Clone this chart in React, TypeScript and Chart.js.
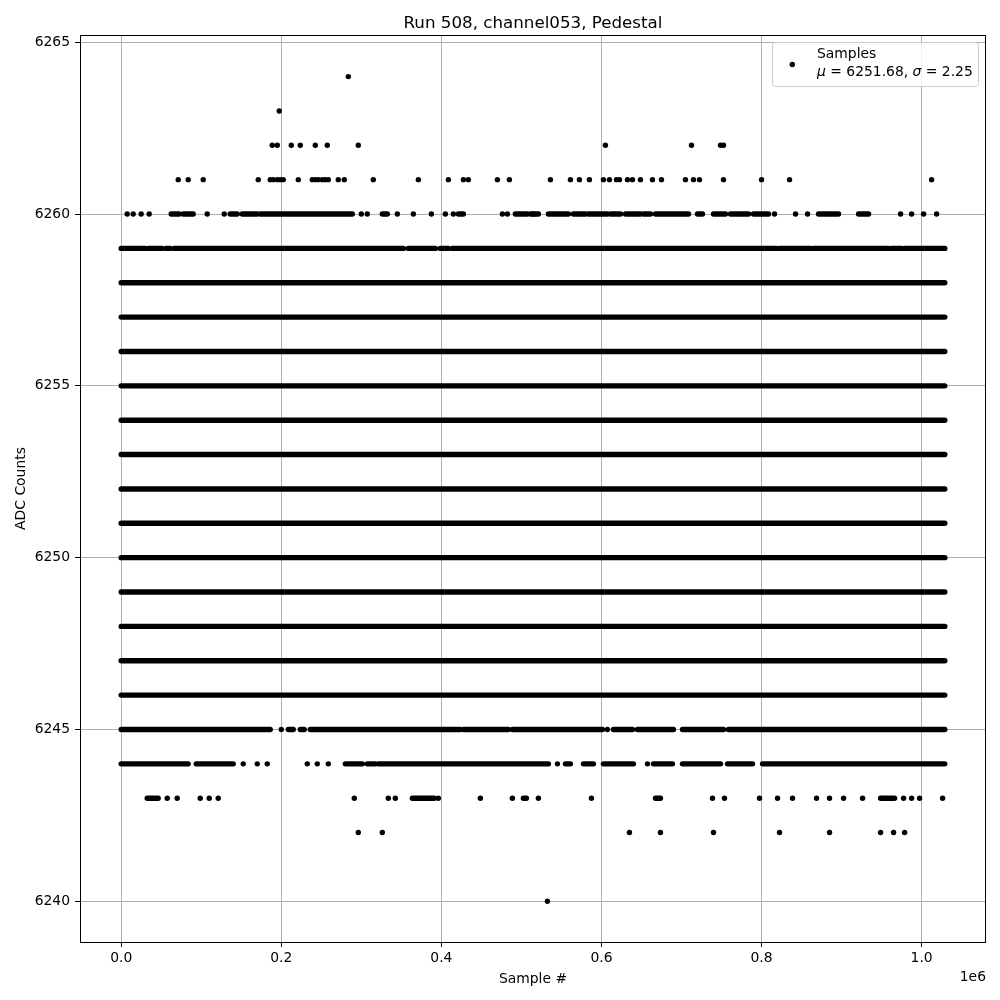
import React, { useEffect, useRef } from "react";
import { Chart, registerables } from "chart.js";

Chart.register(...registerables);

// ---- text ----
const TITLE = "Run 508, channel053, Pedestal";
const X_LABEL = "Sample #";
const Y_LABEL = "ADC Counts";
const X_OFFSET_LABEL = "1e6";
const LEGEND_NAME = "Samples";
const MEAN_TEXT = "6251.68";
const SIGMA_TEXT = "2.25";

// ---- axes ----
const xTickValues = [0, 200000, 400000, 600000, 800000, 1000000];
const yTickValues = [6240, 6245, 6250, 6255, 6260, 6265];
const xMin = -51450;
const xMax = 1080450;
const yMin = 6238.815;
const yMax = 6265.21;

// ---- data: rows where samples form a continuous band ----
const fullRowLevels = [6246, 6247, 6248, 6249, 6250, 6251, 6252, 6253, 6254, 6255, 6256, 6257, 6258];
const fullRowSpan: [number, number] = [0, 1029000];

// runs of densely packed samples [start, end] per ADC level
const row6260Runs: [number, number][] = [
  [62500, 72500], [77500, 90000], [136250, 145000], [151250, 170000], [173750, 288750],
  [326250, 332500], [421250, 427500], [492500, 507500], [511250, 521250], [533750, 558750],
  [565000, 580000], [583750, 607500], [611250, 623750], [630000, 648750], [652500, 661250],
  [667500, 708750], [720000, 726250], [740000, 755000], [761250, 783750], [790000, 808750],
  [871250, 896250], [921250, 933750],
];
const row6259Runs: [number, number][] = [
  [0, 30000], [33750, 51250], [56250, 61250], [66250, 352500], [358750, 392500],
  [398750, 408750], [413750, 818750], [822500, 861250], [865000, 958750], [962500, 975000],
  [978750, 1029000],
];
const row6245Runs: [number, number][] = [
  [0, 186250], [208750, 215000], [223750, 228750], [236250, 423750], [427500, 483750],
  [488750, 601250], [615000, 638750], [645000, 690000], [701250, 752500], [758750, 1029000],
];
const row6244Runs: [number, number][] = [
  [0, 13750], [16250, 83750], [93750, 140000], [280000, 301250], [307500, 317500],
  [321250, 533750], [555000, 561250], [577500, 590000], [602500, 640000], [665000, 688750],
  [701250, 748750], [757500, 788750], [801250, 1029000],
];
const row6243Runs: [number, number][] = [
  [32500, 46250], [363750, 391250], [502500, 506250], [667500, 673750], [948750, 966250],
];

// ---- data: isolated samples per ADC level ----
const row6264Points = [283750];
const row6263Points = [197500];
const row6262Points = [188750, 195000, 212500, 223750, 242500, 257500, 296250, 605000, 712500, 748750, 752500];
const row6261Points = [
  71250, 83750, 102500, 171250, 186250, 190000, 195000, 198750, 202500, 221250, 238750, 242500,
  246250, 251250, 255000, 258750, 271250, 278750, 315000, 371250, 408750, 427500, 433750, 470000,
  485000, 536250, 561250, 572500, 585000, 602500, 610000, 618750, 622500, 632500, 638750, 648750,
  663750, 675000, 705000, 715000, 722500, 752500, 800000, 835000, 1012500,
];
const row6260Points = [
  7500, 15000, 25000, 35000, 107500, 128750, 300000, 307500, 345000, 365000, 387500, 405000,
  415000, 476250, 482500, 515000, 816250, 842500, 857500, 973750, 987500, 1002500, 1018750,
];
const row6245Points = [200000, 607500];
const row6244Points = [152500, 170000, 182500, 232500, 245000, 258750, 545000, 657500];
const row6243Points = [
  57500, 70000, 98750, 110000, 121250, 291250, 333750, 342500, 396250, 448750, 488750, 521250,
  587500, 738750, 753750, 797500, 820000, 838750, 868750, 885000, 902500, 926250, 977500, 987500,
  997500, 1026250,
];
const row6242Points = [296250, 326250, 635000, 673750, 740000, 822500, 885000, 948750, 965000, 978750];
const row6240Points = [532500];

const MARKER_R = 2.7;
const FONT = "DejaVu Sans";

function buildRunData() {
  const levels: Array<[number, [number, number][]]> = [
    [6260, row6260Runs],
    [6259, row6259Runs],
    [6245, row6245Runs],
    [6244, row6244Runs],
    [6243, row6243Runs],
    ...fullRowLevels.map((l) => [l, [fullRowSpan]] as [number, [number, number][]]),
  ];
  const out: { x: number; y: number | null }[] = [];
  for (const [lvl, runs] of levels) {
    for (const [a, b] of runs) {
      out.push({ x: a, y: lvl }, { x: b, y: lvl }, { x: b, y: null });
    }
  }
  return out;
}

function buildPointData() {
  const levels: Array<[number, number[]]> = [
    [6264, row6264Points],
    [6263, row6263Points],
    [6262, row6262Points],
    [6261, row6261Points],
    [6260, row6260Points],
    [6245, row6245Points],
    [6244, row6244Points],
    [6243, row6243Points],
    [6242, row6242Points],
    [6240, row6240Points],
  ];
  const out: { x: number; y: number }[] = [];
  for (const [lvl, xs] of levels) for (const x of xs) out.push({ x, y: lvl });
  return out;
}

const decorPlugin = {
  id: "decor",
  afterDatasetsDraw(chart: any) {
    const { ctx, chartArea } = chart;
    ctx.save();
    ctx.strokeStyle = "#000";
    ctx.lineWidth = 1;
    ctx.strokeRect(
      Math.round(chartArea.left) + 0.5,
      Math.round(chartArea.top) + 0.5,
      Math.round(chartArea.right) - Math.round(chartArea.left) - 1,
      Math.round(chartArea.bottom) - Math.round(chartArea.top)
    );
    ctx.restore();
  },
  afterDraw(chart: any) {
    const { ctx, chartArea } = chart;
    const cx = (chartArea.left + chartArea.right) / 2;
    ctx.save();
    ctx.fillStyle = "#000";
    // title
    ctx.font = `16.7px '${FONT}'`;
    ctx.textAlign = "center";
    ctx.textBaseline = "alphabetic";
    ctx.fillText(TITLE, cx, 28);
    // x label
    ctx.font = `13.9px '${FONT}'`;
    ctx.fillText(X_LABEL, cx, 983);
    // offset label
    ctx.textAlign = "right";
    ctx.fillText(X_OFFSET_LABEL, chartArea.right, 981);
    // y label
    ctx.save();
    ctx.translate(25, (chartArea.top + chartArea.bottom) / 2);
    ctx.rotate(-Math.PI / 2);
    ctx.textAlign = "center";
    ctx.fillText(Y_LABEL, 0, 0);
    ctx.restore();

    // legend
    const lx = 772.5, ly = 42.5, lw = 206, lh = 44, r = 3;
    ctx.beginPath();
    ctx.moveTo(lx + r, ly);
    ctx.lineTo(lx + lw - r, ly);
    ctx.arcTo(lx + lw, ly, lx + lw, ly + r, r);
    ctx.lineTo(lx + lw, ly + lh - r);
    ctx.arcTo(lx + lw, ly + lh, lx + lw - r, ly + lh, r);
    ctx.lineTo(lx + r, ly + lh);
    ctx.arcTo(lx, ly + lh, lx, ly + lh - r, r);
    ctx.lineTo(lx, ly + r);
    ctx.arcTo(lx, ly, lx + r, ly, r);
    ctx.closePath();
    ctx.fillStyle = "rgba(255,255,255,0.8)";
    ctx.fill();
    ctx.strokeStyle = "#cccccc";
    ctx.lineWidth = 1;
    ctx.stroke();

    ctx.fillStyle = "#000";
    ctx.beginPath();
    ctx.arc(792.3, 64.5, MARKER_R, 0, Math.PI * 2);
    ctx.fill();

    ctx.textAlign = "left";
    ctx.font = `13.9px '${FONT}'`;
    ctx.fillText(LEGEND_NAME, 817, 58);
    const parts: [string, boolean][] = [
      ["\u03bc", true],
      [` = ${MEAN_TEXT}, `, false],
      ["\u03c3", true],
      [` = ${SIGMA_TEXT}`, false],
    ];
    let tx = 817;
    for (const [t, it] of parts) {
      ctx.font = `${it ? "italic " : ""}13.9px '${FONT}'`;
      ctx.fillText(t, tx, 76);
      tx += ctx.measureText(t).width;
    }
    ctx.restore();
  },
};

export default function App() {
  const ref = useRef<HTMLCanvasElement>(null);
  useEffect(() => {
    if (!ref.current) return;
    const chart = new Chart(ref.current, {
      type: "scatter",
      data: {
        datasets: [
          {
            label: "runs",
            data: buildRunData() as any,
            showLine: true,
            spanGaps: false,
            borderColor: "#000",
            backgroundColor: "#000",
            borderWidth: 2 * MARKER_R,
            borderCapStyle: "round",
            tension: 0,
            pointRadius: 0,
            pointHoverRadius: 0,
          } as any,
          {
            label: LEGEND_NAME,
            data: buildPointData(),
            pointRadius: MARKER_R,
            pointHoverRadius: MARKER_R,
            pointBorderWidth: 0,
            backgroundColor: "#000",
            borderColor: "#000",
          } as any,
        ],
      },
      options: {
        animation: false,
        responsive: false,
        devicePixelRatio: 1,
        events: [],
        layout: { padding: { top: 35, right: 14, left: 0, bottom: 0 } },
        plugins: {
          legend: { display: false },
          title: { display: false },
          tooltip: { enabled: false },
        },
        scales: {
          x: {
            type: "linear",
            min: xMin,
            max: xMax,
            afterFit: (s: any) => {
              s.height = 58;
            },
            afterBuildTicks: (s: any) => {
              s.ticks = xTickValues.map((v) => ({ value: v }));
            },
            ticks: {
              color: "#000",
              font: { family: FONT, size: 13.9 },
              padding: 3,
              maxRotation: 0,
              autoSkip: false,
              callback: (v: any) => (Number(v) / 1e6).toFixed(1),
            },
            grid: {
              color: "#b0b0b0",
              lineWidth: 1,
              tickColor: "#000",
              tickLength: 5,
              tickWidth: 1,
            },
            border: { display: false },
          },
          y: {
            type: "linear",
            min: yMin,
            max: yMax,
            afterFit: (s: any) => {
              s.width = 80;
            },
            afterBuildTicks: (s: any) => {
              s.ticks = yTickValues.map((v) => ({ value: v }));
            },
            ticks: {
              color: "#000",
              font: { family: FONT, size: 13.9 },
              padding: 5,
              autoSkip: false,
              callback: (v: any) => String(v),
            },
            grid: {
              color: "#b0b0b0",
              lineWidth: 1,
              tickColor: "#000",
              tickLength: 5,
              tickWidth: 1,
            },
            border: { display: false },
          },
        },
      },
      plugins: [decorPlugin],
    });
    return () => chart.destroy();
  }, []);

  return (
    <div style={{ position: "absolute", left: 0, top: 0, width: 1000, height: 1000, background: "#fff" }}>
      <canvas ref={ref} width={1000} height={1000} style={{ display: "block", width: 1000, height: 1000 }} />
    </div>
  );
}
